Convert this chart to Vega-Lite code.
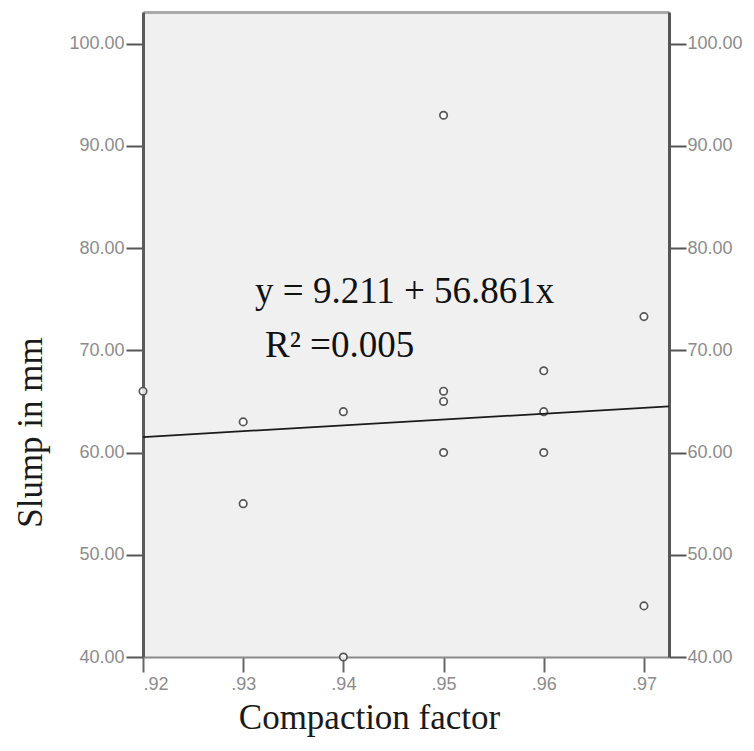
{
  "$schema": "https://vega.github.io/schema/vega-lite/v6.json",
  "width": 526,
  "height": 645,
  "autosize": {"type": "none"},
  "padding": {"left": 143, "top": 12, "right": 85, "bottom": 94},
  "background": "white",
  "config": {
    "view": {"stroke": null, "fill": "#f0f0f0"},
    "axis": {
      "labelFont": "Liberation Sans",
      "labelFontSize": 18,
      "labelColor": "#8c8c8c",
      "grid": false,
      "titleFont": "Liberation Serif",
      "titleFontSize": 35,
      "titleFontWeight": "normal",
      "titleColor": "#1a1a1a"
    }
  },
  "datasets": {
    "points": [
      {"cf": 0.92, "slump": 66},
      {"cf": 0.93, "slump": 63},
      {"cf": 0.93, "slump": 55},
      {"cf": 0.94, "slump": 64},
      {"cf": 0.94, "slump": 40},
      {"cf": 0.95, "slump": 93},
      {"cf": 0.95, "slump": 66},
      {"cf": 0.95, "slump": 65},
      {"cf": 0.95, "slump": 60},
      {"cf": 0.96, "slump": 68},
      {"cf": 0.96, "slump": 64},
      {"cf": 0.96, "slump": 60},
      {"cf": 0.97, "slump": 73.3},
      {"cf": 0.97, "slump": 45}
    ],
    "fit": [
      {"cf": 0.92, "slump": 61.52},
      {"cf": 0.9725, "slump": 64.51}
    ],
    "notes": [
      {"cf": 0.93118, "slump": 74.6, "label": "y = 9.211 + 56.861x"},
      {"cf": 0.93218, "slump": 69.3, "label": "R² =0.005"}
    ]
  },
  "layer": [
    {
      "data": {"name": "points"},
      "mark": {"type": "point", "shape": "circle", "size": 55, "filled": false, "fill": "white", "fillOpacity": 0.8, "stroke": "#555555", "strokeWidth": 1.7, "opacity": 1, "clip": false},
      "encoding": {
        "x": {
          "field": "cf", "type": "quantitative",
          "scale": {"domain": [0.92, 0.9725], "nice": false, "zero": false},
          "axis": {
            "orient": "bottom",
            "values": [0.92, 0.93, 0.94, 0.95, 0.96, 0.97],
            "labelExpr": "replace(format(datum.value, '.2f'), '0.', '.')",
            "domainColor": "#8a8a8a", "domainWidth": 2,
            "tickColor": "#666666", "tickWidth": 2, "tickSize": 15,
            "labelPadding": 3,
            "title": "Compaction factor",
            "titleX": 226, "titleY": 71, "titleAlign": "center", "titleBaseline": "alphabetic", "titleAnchor": null
          }
        },
        "y": {
          "field": "slump", "type": "quantitative",
          "scale": {"domain": [40, 103.1], "nice": false, "zero": false},
          "axis": {
            "orient": "left",
            "values": [40, 50, 60, 70, 80, 90, 100],
            "format": ".2f",
            "domainColor": "#5a5a5a", "domainWidth": 3,
            "tickColor": "#555555", "tickWidth": 2, "tickSize": 17,
            "labelPadding": 2,
            "title": "Slump in mm",
            "titleX": -102, "titleY": 420, "titleAngle": -90, "titleAlign": "center", "titleBaseline": "alphabetic", "titleAnchor": null
          }
        }
      }
    },
    {
      "data": {"name": "fit"},
      "mark": {"type": "line", "color": "#1a1a1a", "strokeWidth": 1.8},
      "encoding": {
        "x": {
          "field": "cf", "type": "quantitative",
          "axis": {"orient": "top", "labels": false, "ticks": false, "title": null, "domainColor": "#aaaaaa", "domainWidth": 3}
        },
        "y": {
          "field": "slump", "type": "quantitative",
          "axis": {
            "orient": "right",
            "values": [40, 50, 60, 70, 80, 90, 100],
            "format": ".2f",
            "domainColor": "#555555", "domainWidth": 3,
            "tickColor": "#555555", "tickWidth": 2, "tickSize": 17,
            "labelPadding": 1,
            "title": null
          }
        }
      }
    },
    {
      "data": {"name": "notes"},
      "mark": {"type": "text", "font": "Liberation Serif", "fontSize": 37, "align": "left", "baseline": "alphabetic", "color": "#111111"},
      "encoding": {
        "x": {"field": "cf", "type": "quantitative", "axis": null},
        "y": {"field": "slump", "type": "quantitative", "axis": null},
        "text": {"field": "label"}
      }
    }
  ],
  "resolve": {"axis": {"x": "independent", "y": "independent"}}
}
